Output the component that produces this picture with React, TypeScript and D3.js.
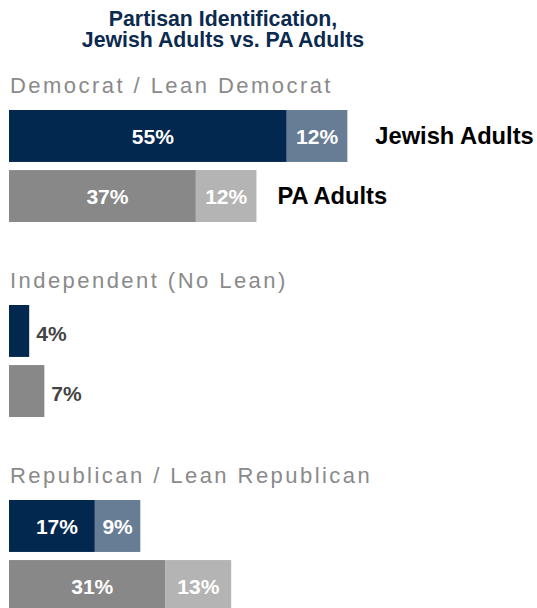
import React from "react";
import * as d3 from "d3";

const TITLE_LINES = ["Partisan Identification,", "Jewish Adults vs. PA Adults"];
const groups = ["Democrat / Lean Democrat", "Independent (No Lean)", "Republican / Lean Republican"];
const populations = ["Jewish Adults", "PA Adults"];
const jewishCore = [55, 4, 17];
const jewishLean = [12, 0, 9];
const paCore = [37, 7, 31];
const paLean = [12, 0, 13];

const W = 537;
const H = 608;
const FONT = "'Liberation Sans', Arial, Helvetica, sans-serif";

const COLORS = {
  "Jewish Adults": { core: "#03284f", lean: "#677c95" },
  "PA Adults": { core: "#888888", lean: "#b4b4b4" },
};

export default function App() {
  const x = d3.scaleLinear().domain([0, 100]).range([9, 514]);
  const gy = d3.scalePoint<string>().domain(groups).range([110, 500]);
  const ry = d3.scaleBand<string>().domain(populations).range([0, 112]).paddingInner(0.135);
  const bh = ry.bandwidth();

  const rows = populations.map((p, pi) => ({
    pop: p,
    core: pi === 0 ? jewishCore : paCore,
    lean: pi === 0 ? jewishLean : paLean,
  }));

  const legendGap: Record<string, number> = { "Jewish Adults": 28, "PA Adults": 21 };

  return (
    <svg
      width={W}
      height={H}
      style={{ position: "absolute", left: 0, top: 0, display: "block", background: "#fff" }}
      fontFamily={FONT}
    >
      {TITLE_LINES.map((t, i) => (
        <text
          key={t}
          x={223}
          y={26 + i * 21}
          textAnchor="middle"
          fontSize={21.3}
          fontWeight="bold"
          fill="#0b2a4f"
        >
          {t}
        </text>
      ))}
      {groups.map((g, gi) => {
        const top = gy(g)!;
        return (
          <g key={g}>
            <text x={10} y={top - 17} fontSize={22} letterSpacing={2.45} fill="#8a8a8a">
              {g}
            </text>
            {rows.map((r) => {
              const y0 = top + ry(r.pop)!;
              const c = r.core[gi];
              const l = r.lean[gi];
              const xc = x(c);
              const xl = x(c + l);
              const cy = y0 + bh / 2;
              const cols = COLORS[r.pop as keyof typeof COLORS];
              return (
                <g key={r.pop}>
                  <rect x={x(0)} y={y0} width={xc - x(0)} height={bh} fill={cols.core} />
                  {l > 0 && <rect x={xc} y={y0} width={xl - xc} height={bh} fill={cols.lean} />}
                  {l > 0 ? (
                    <>
                      <text x={(x(0) + xc) / 2 + 5} y={cy + 8} textAnchor="middle" fontSize={21} fontWeight="bold" fill="#fff">
                        {c}%
                      </text>
                      <text x={(xc + xl) / 2} y={cy + 8} textAnchor="middle" fontSize={21} fontWeight="bold" fill="#fff">
                        {l}%
                      </text>
                    </>
                  ) : (
                    <text x={xc + 7} y={cy + 10} fontSize={21} fontWeight="bold" fill="#444">
                      {c}%
                    </text>
                  )}
                  {gi === 0 && (
                    <text x={xl + legendGap[r.pop]} y={cy + 8} fontSize={23.7} fontWeight="bold" fill="#000">
                      {r.pop}
                    </text>
                  )}
                </g>
              );
            })}
          </g>
        );
      })}
    </svg>
  );
}
